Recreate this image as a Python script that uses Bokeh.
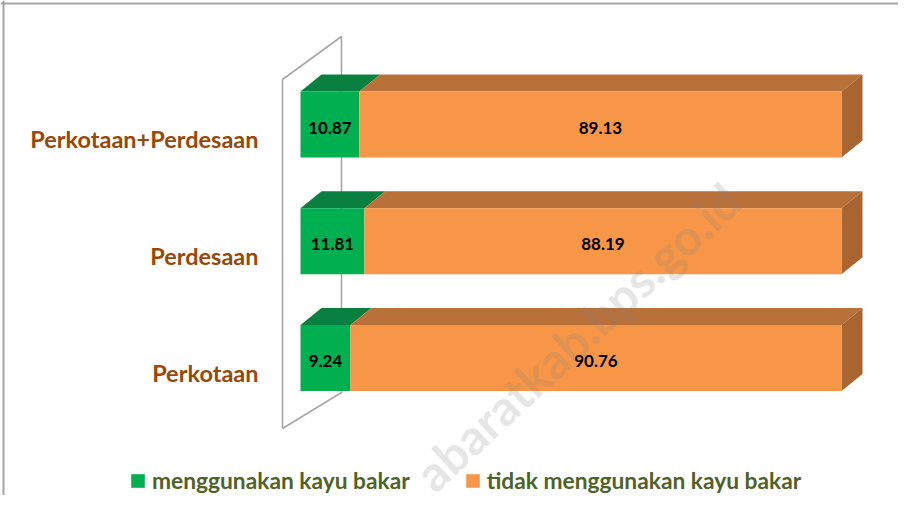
from bokeh.plotting import figure
from bokeh.models import ColumnDataSource, Range1d, Legend, LegendItem, Span, Label
from bokeh.core.properties import value
from bokeh.embed import file_html
from bokeh.resources import INLINE

# ---------------- data ----------------
categories = ["Perkotaan", "Perdesaan", "Perkotaan+Perdesaan"]
pakai = [9.24, 11.81, 10.87]          # menggunakan kayu bakar
tidak = [90.76, 88.19, 89.13]         # tidak menggunakan kayu bakar
series_names = ["menggunakan kayu bakar", "tidak menggunakan kayu bakar"]
watermark = "abaratkab.bps.go.id"

# ---------------- layout constants ----------------
W, H = 898, 495
PX = 5.41          # px per percent point
PY = 116.7         # px per category step
X0 = 300.0         # frame px (from left) of value 0
Y0 = 357.5         # frame px (from top) of first category centre

x_start = -X0 / PX
x_end = x_start + W / PX
y_end = Y0 / PY
y_start = y_end - H / PY

def fx(px):   # frame px -> data x
    return (px - X0) / PX

def fy(py):   # frame px (from top) -> data y
    return (Y0 - py) / PY

bar_h = 66 / PY
dx = 21 / PX
dy = 17 / PY

GREEN, GREEN_TOP = "#00B050", "#0A8040"
ORANGE, ORANGE_TOP, ORANGE_SIDE = "#F79646", "#B9713A", "#A8652F"
FONT = "Lato"

ypos = list(range(len(categories)))
totals = [a + b for a, b in zip(pakai, tidak)]

p = figure(width=W, height=H, x_range=Range1d(x_start, x_end),
           y_range=Range1d(y_start, y_end), output_backend="svg",
           toolbar_location=None, min_border=0, outline_line_color=None)
p.axis.visible = False
p.grid.visible = False
p.background_fill_color = "white"

# frame lines (top / left)
p.add_layout(Span(location=fy(3), dimension="width", line_color="#A6A6A6", line_width=2))
p.add_layout(Span(location=fx(3), dimension="height", line_color="#A6A6A6", line_width=2))

# side wall of the 3-D plot
wf, wb = fx(282), fx(341)
w_top_f, w_top_b = fy(79), fy(36)
w_bot_f, w_bot_b = fy(428), fy(392)
p.line(x=[wf, wf, wb, wb, wf], y=[w_bot_f, w_top_f, w_top_b, w_bot_b, w_bot_f],
       line_color="#A6A6A6", line_width=1.6)

# top faces
def top_faces(lefts, rights):
    xs, ys = [], []
    for y, l, r in zip(ypos, lefts, rights):
        t = y + bar_h / 2
        xs.append([l, r, r + dx, l + dx])
        ys.append([t, t, t + dy, t + dy])
    return xs, ys

gx, gy = top_faces([0] * len(pakai), pakai)
p.patches(xs=gx, ys=gy, fill_color=GREEN_TOP, line_color=None)
ox, oy = top_faces(pakai, totals)
p.patches(xs=ox, ys=oy, fill_color=ORANGE_TOP, line_color=None)

# right side faces
sx, sy = [], []
for y, r in zip(ypos, totals):
    b, t = y - bar_h / 2, y + bar_h / 2
    sx.append([r, r + dx, r + dx, r])
    sy.append([b, b + dy, t + dy, t])
p.patches(xs=sx, ys=sy, fill_color=ORANGE_SIDE, line_color=None)

# front faces
src = ColumnDataSource(dict(y=ypos, pakai=pakai, tot=totals,
                            gmid=[v / 2 for v in pakai],
                            omid=[a + b / 2 for a, b in zip(pakai, tidak)],
                            glab=[f"{v:.2f}" for v in pakai],
                            olab=[f"{v:.2f}" for v in tidak],
                            cat=categories,
                            ly=[y - 14.5 / PY for y in ypos],
                            vy=[y - 3 / PY for y in ypos]))
r_g = p.hbar(y="y", left=0, right="pakai", height=bar_h, source=src,
             fill_color=GREEN, line_color=None)
r_o = p.hbar(y="y", left="pakai", right="tot", height=bar_h, source=src,
             fill_color=ORANGE, line_color=None)

# value labels
for xcol, tcol in (("gmid", "glab"), ("omid", "olab")):
    p.text(x=xcol, y="vy", text=tcol, source=src, text_align="center",
           text_baseline="middle", text_font=value(FONT), text_font_size="17px",
           text_font_style="bold", text_color="black")

# category labels
p.text(x=fx(258), y="ly", text="cat", source=src, text_align="right",
       text_baseline="middle", text_font=value(FONT), text_font_size="23.5px",
       text_font_style="bold", text_color="#984807")

# watermark
p.add_layout(Label(x=fx(422), y=fy(480), text=watermark, angle=0.75,
                   text_align="left", text_baseline="alphabetic",
                   text_font=FONT, text_font_size="49px",
                   text_font_style="bold", text_color="#808080",
                   text_alpha=0.2))

# legend
legend = Legend(items=[LegendItem(label=series_names[0], renderers=[r_g]),
                       LegendItem(label=series_names[1], renderers=[r_o])],
                orientation="horizontal", location=(129, 1),
                glyph_width=17, glyph_height=17, label_standoff=6, spacing=54,
                padding=0, margin=0, border_line_color=None,
                background_fill_alpha=0,
                label_text_font=FONT, label_text_font_size="22.75px",
                label_text_font_style="bold", label_text_color="#4F6228")
p.add_layout(legend, "center")

open("out.html", "w").write(file_html(p, INLINE))
